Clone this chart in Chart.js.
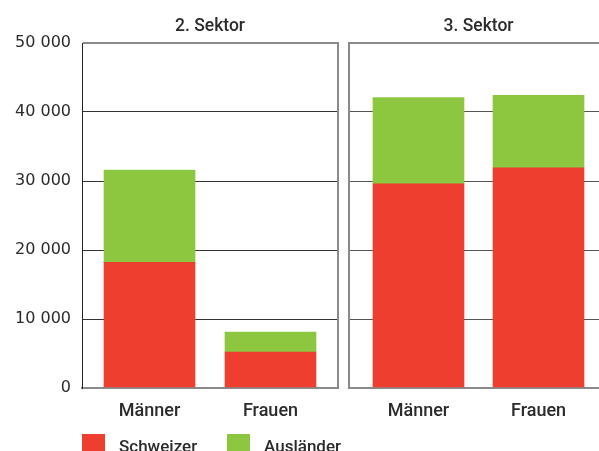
<!DOCTYPE html>
<html><head><meta charset="utf-8">
<script src="https://cdn.jsdelivr.net/npm/chart.js@4.4.1/dist/chart.umd.min.js"></script>
<style>
html,body{margin:0;padding:0;width:599px;height:451px;overflow:hidden;background:#fff;}
#wrap{position:relative;width:599px;height:451px;overflow:hidden;}
canvas{position:absolute;top:0;}
#c1{left:0}
#c2{left:343px}
.lgtext{position:absolute;font-family:Roboto,sans-serif;font-weight:500;font-size:17px;color:#2b2b2b;line-height:20px;white-space:nowrap;}
.lgsw{position:absolute;width:23px;height:18px;}
</style></head><body>
<div id="wrap">
<canvas id="c1" width="343" height="451"></canvas>
<canvas id="c2" width="270" height="451"></canvas>
<div id="legend"></div>
</div>
<script>
const categories = ['Männer', 'Frauen'];
const panelTitles = ['2. Sektor', '3. Sektor'];
const seriesNames = ['Schweizer', 'Ausländer'];
const sektor2Schweizer = [18200, 5200];
const sektor2Auslaender = [13400, 2900];
const sektor3Schweizer = [29600, 31900];
const sektor3Auslaender = [12500, 10500];
const yMin = 0, yMax = 50000, yStep = 10000;

const seriesColors = ['#EE3E2F', '#8DC63F'];
const textColor = '#2b2b2b';
const frameGray = '#8a8a8a';

function fmt(v) { return String(v).replace(/\B(?=(\d{3})+(?!\d))/g, ' '); }

const panelDecor = {
  id: 'panelDecor',
  afterDraw(chart, args, o) {
    const {ctx, chartArea: a} = chart;
    ctx.save();
    ctx.font = '500 17.5px Roboto';
    ctx.fillStyle = textColor;
    ctx.textAlign = 'center';
    ctx.textBaseline = 'alphabetic';
    ctx.fillText(o.title, (a.left + a.right) / 2, 31);
    if (o.frameRight) {
      ctx.strokeStyle = frameGray;
      ctx.lineWidth = 2;
      ctx.beginPath();
      ctx.moveTo(a.right, a.top - 1);
      ctx.lineTo(a.right, a.bottom + 1);
      ctx.stroke();
    }
    ctx.restore();
  }
};

function makePanel(id, title, schweizer, auslaender, cfg) {
  const toPts = arr => categories.map((c, i) => ({x: i, y: arr[i]}));
  return new Chart(document.getElementById(id), {
    type: 'bar',
    data: {
      datasets: [
        {label: seriesNames[0], data: toPts(schweizer), backgroundColor: seriesColors[0], borderWidth: 0, barThickness: 91, grouped: false},
        {label: seriesNames[1], data: toPts(auslaender), backgroundColor: seriesColors[1], borderWidth: 0, barThickness: 91, grouped: false}
      ]
    },
    options: {
      responsive: false,
      animation: false,
      events: [],
      layout: {padding: {top: 43, right: 5, bottom: 0, left: cfg.padLeft}},
      plugins: {
        legend: {display: false},
        tooltip: {enabled: false},
        panelDecor: {title: title, frameRight: cfg.frameRight}
      },
      scales: {
        x: {
          type: 'linear',
          stacked: false,
          offset: false,
          min: cfg.xMin, max: cfg.xMax,
          grid: {display: false, offset: false},
          border: {display: true, color: frameGray, width: 2},
          afterFit: s => { s.height = 63; },
          ticks: {
            stepSize: 1,
            includeBounds: false,
            padding: 5,
            maxRotation: 0,
            autoSkip: false,
            color: textColor,
            font: {family: 'Roboto', size: 18, weight: 500},
            callback: v => categories[v] !== undefined ? categories[v] : ''
          }
        },
        y: {
          stacked: true,
          min: yMin, max: yMax,
          grid: {
            drawTicks: false,
            color: c => (c.tick && (c.tick.value === yMin || c.tick.value === yMax)) ? frameGray : cfg.gridColor,
            lineWidth: c => (c.tick && (c.tick.value === yMin || c.tick.value === yMax)) ? 2 : 1
          },
          border: {display: true, color: cfg.yBorderColor, width: cfg.yBorderWidth},
          afterFit: s => { s.width = cfg.yWidth; },
          ticks: {
            display: cfg.showY,
            stepSize: yStep,
            padding: 11,
            color: textColor,
            font: {family: 'DejaVu Sans', size: 16},
            callback: v => fmt(v)
          }
        }
      }
    },
    plugins: [panelDecor]
  });
}

makePanel('c1', panelTitles[0], sektor2Schweizer, sektor2Auslaender,
  {padLeft: 0, yWidth: 82, showY: true, xMin: -0.558, xMax: 1.558, frameRight: true, gridColor: '#333', yBorderColor: '#222', yBorderWidth: 1});
makePanel('c2', panelTitles[1], sektor3Schweizer, sektor3Auslaender,
  {padLeft: 6, yWidth: 0, showY: false, xMin: -0.579, xMax: 1.579, frameRight: false, gridColor: '#555', yBorderColor: frameGray, yBorderWidth: 2});

// legend
const legendPos = [{sw: 82, tx: 119}, {sw: 227, tx: 264}];
const lg = document.getElementById('legend');
seriesNames.forEach((n, i) => {
  const sw = document.createElement('div');
  sw.className = 'lgsw';
  sw.style.left = legendPos[i].sw + 'px';
  sw.style.top = '434px';
  sw.style.background = seriesColors[i];
  lg.appendChild(sw);
  const t = document.createElement('div');
  t.className = 'lgtext';
  t.style.left = legendPos[i].tx + 'px';
  t.style.top = '436px';
  t.textContent = n;
  lg.appendChild(t);
});
</script>
</body></html>
